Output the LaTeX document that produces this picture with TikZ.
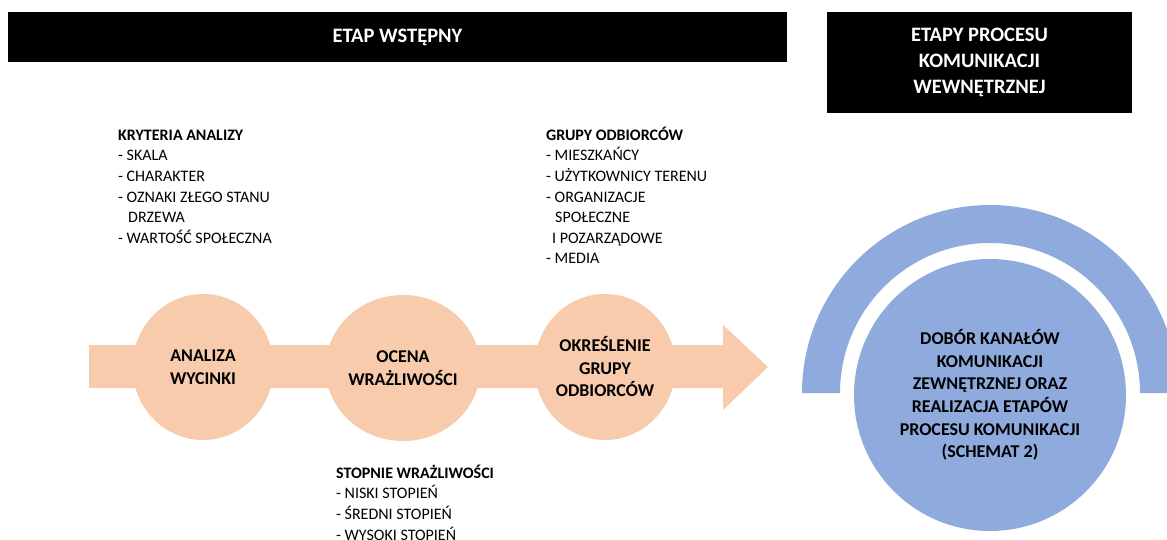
\documentclass[tikz,border=0pt]{standalone}
\usepackage{fontspec}
\setmainfont{Carlito}
\usetikzlibrary{shapes.geometric}
\definecolor{peach}{HTML}{F8CBAD}
\definecolor{bluefill}{HTML}{8FAADC}
\begin{document}
\begin{tikzpicture}[x=1pt,y=1pt,
  hdr/.style={fill=black, draw=none, inner sep=0pt, text=white, align=center,
    font=\fontsize{20.5}{26}\selectfont\bfseries},
  stage/.style={ellipse, fill=peach, minimum width=141pt, minimum height=146pt,
    inner sep=0pt, align=center, font=\fontsize{18}{22.5}\selectfont\bfseries},
  goal/.style={circle, fill=bluefill, minimum size=272pt, inner sep=0pt,
    align=center, font=\fontsize{18}{22.6}\selectfont\bfseries},
  lbl/.style={anchor=north west, inner sep=0pt, align=left,
    font=\fontsize{16}{20.6}\selectfont},
]
\clip (0,0) rectangle (1167,539);
\fill[white] (0,0) rectangle (1167,539);

% header bars
\node[hdr, minimum width=779pt, minimum height=50pt] (bar) at (397.5,502) {ETAP WSTĘPNY};
\node[hdr, minimum width=305pt, minimum height=101pt] (box) at (979.5,476.5)
  {ETAPY PROCESU\\KOMUNIKACJI\\WEWNĘTRZNEJ};

% big arrow
\fill[peach] (89,194) -- (723,194) -- (723,214) -- (768,172) -- (723,129)
  -- (723,151) -- (89,151) -- cycle;

% stages
\node[stage] (s1) at (203,172) {ANALIZA\\WYCINKI};
\node[stage] (s2) at (403,171) {OCENA\\WRAŻLIWOŚCI};
\node[stage] (s3) at (605,172) {OKREŚLENIE\\GRUPY\\ODBIORCÓW};

% ring and goal circle
\fill[bluefill] (1178,146) arc[start angle=0, end angle=180, radius=188pt]
  -- (840,146) arc[start angle=180, end angle=0, radius=150pt] -- cycle;
\node[goal] (goal) at (990,144)
  {DOBÓR KANAŁÓW\\KOMUNIKACJI\\ZEWNĘTRZNEJ ORAZ\\REALIZACJA ETAPÓW\\PROCESU KOMUNIKACJI\\(SCHEMAT 2)};

% labels
\node[lbl] (l1) at (118,413.4) {\strut\textbf{KRYTERIA ANALIZY}\\- SKALA\\- CHARAKTER\\- OZNAKI ZŁEGO STANU\\\hspace*{10pt}DRZEWA\\- WARTOŚĆ SPOŁECZNA};
\node[lbl] (l2) at (546,413.4) {\strut\textbf{GRUPY ODBIORCÓW}\\- MIESZKAŃCY\\- UŻYTKOWNICY TERENU\\- ORGANIZACJE\\\hspace*{9pt}SPOŁECZNE\\\hspace*{6pt}I POZARZĄDOWE\\- MEDIA};
\node[lbl] (l3) at (336,75.4) {\strut\textbf{STOPNIE WRAŻLIWOŚCI}\\- NISKI STOPIEŃ\\- ŚREDNI STOPIEŃ\\- WYSOKI STOPIEŃ};
\end{tikzpicture}
\end{document}
